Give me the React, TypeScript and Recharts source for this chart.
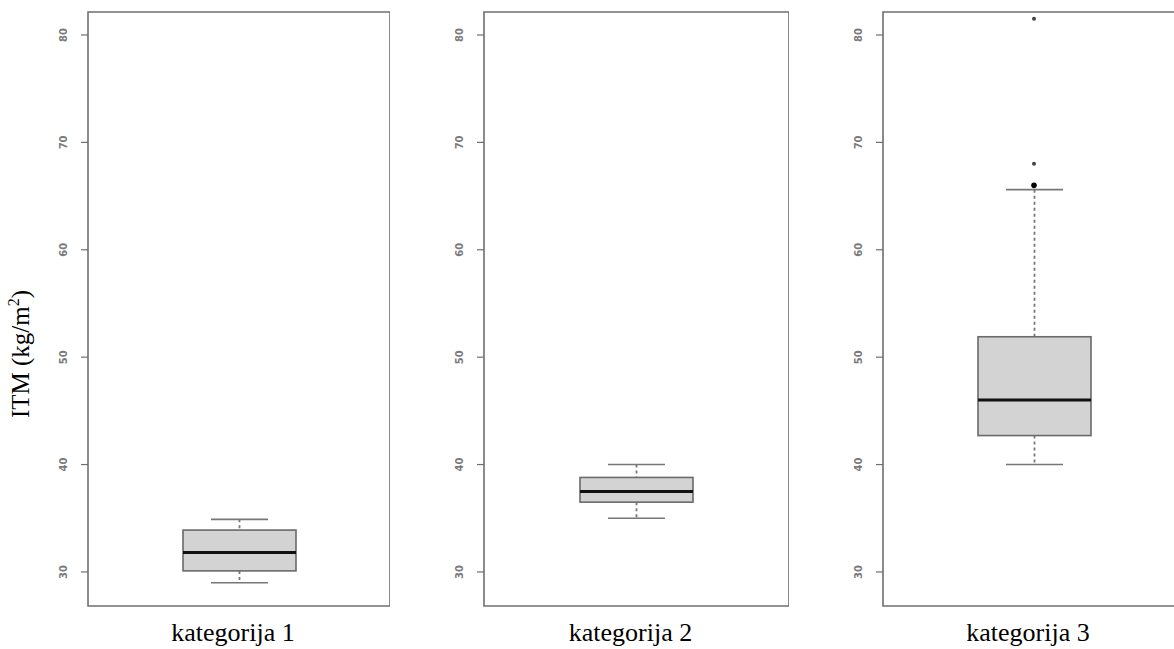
import React from 'react';
import { ComposedChart, Bar, Line, XAxis, YAxis, ReferenceArea } from 'recharts';

const categories = ['kategorija 1', 'kategorija 2', 'kategorija 3'];
const minVals = [29.0, 35.0, 40.0];
const q1Vals = [30.1, 36.5, 42.7];
const medianVals = [31.8, 37.5, 46.0];
const q3Vals = [33.9, 38.8, 51.9];
const maxVals = [34.9, 40.0, 65.6];
const outlierVals: number[][] = [[], [], [66.0, 68.0, 81.5]];
const yTicks = [30, 40, 50, 60, 70, 80];
const yDomain = [26.83, 82.14];
const yLabel = 'ITM (kg/m';

const panels = [
  { left: 0, axisW: 88, plotW: 302 },
  { left: 400, axisW: 84, plotW: 305 },
  { left: 800, axisW: 83, plotW: 302 },
];

const BOX_W = 113;
const CAP_W = 57;
const GRAY = '#6f6f6f';

const BoxShape = (props: any) => {
  const { x, y, width, height, payload } = props;
  const top = Math.min(y, y + height);
  const bottom = Math.max(y, y + height);
  const lo = payload.range[0];
  const hi = payload.range[1];
  const k = (bottom - top) / (hi - lo);
  const toY = (v: number) => bottom - (v - lo) * k;
  const cx = x + width / 2;
  const yq1 = toY(payload.q1);
  const yq3 = toY(payload.q3);
  const ymed = toY(payload.median);
  return (
    <g>
      <line x1={cx} x2={cx} y1={top} y2={yq3} stroke="#777" strokeWidth={1.8} strokeDasharray="3 3" />
      <line x1={cx} x2={cx} y1={yq1} y2={bottom} stroke="#777" strokeWidth={1.8} strokeDasharray="3 3" />
      <line x1={cx - CAP_W / 2} x2={cx + CAP_W / 2} y1={top} y2={top} stroke="#777" strokeWidth={1.6} />
      <line x1={cx - CAP_W / 2} x2={cx + CAP_W / 2} y1={bottom} y2={bottom} stroke="#777" strokeWidth={1.6} />
      <rect x={x} y={yq3} width={width} height={yq1 - yq3} fill="#d3d3d3" stroke="#6a6a6a" strokeWidth={1.6} />
      <line x1={x} x2={x + width} y1={ymed} y2={ymed} stroke="#111" strokeWidth={3} />
    </g>
  );
};

const YTick = (props: any) => {
  const { x, y, payload } = props;
  const bx = x - 12;
  return (
    <text x={bx} y={y} transform={`rotate(-90, ${bx}, ${y})`} textAnchor="middle" fontSize={10}
      fontFamily="DejaVu Sans, sans-serif" fill="#7a7a7a" fontWeight="bold">
      {payload.value}
    </text>
  );
};

const XTick = (props: any) => {
  const { x, payload } = props;
  return (
    <text x={x - 6} y={641} textAnchor="middle" fontSize={26} fontFamily="Liberation Serif, Times New Roman, serif" fill="#000">
      {payload.value}
    </text>
  );
};

const YLabel = () => (
  <text x={29} y={354} transform="rotate(-90, 29, 354)" textAnchor="middle" fontSize={25}
    fontFamily="Liberation Serif, Times New Roman, serif" fill="#000">
    {yLabel}
    <tspan fontSize={16} dy={-10}>2</tspan>
    <tspan dy={10}>)</tspan>
  </text>
);

const OutDot = (props: any) => {
  const { cx, cy, index, dataKey } = props;
  if (cy == null || isNaN(cy)) return <g key={`${dataKey}-${index}`} />;
  const big = dataKey === 'o0';
  return <circle key={`${dataKey}-${index}`} cx={cx} cy={cy} r={big ? 2.8 : 2} fill={big ? '#000' : '#444'} />;
};

export default function App() {
  return (
    <div style={{ position: 'absolute', left: 0, top: 0, width: 1174, height: 649, overflow: 'hidden', background: '#fff' }}>
      {categories.map((cat, i) => {
        const p = panels[i];
        const row: any = {
          name: cat,
          range: [minVals[i], maxVals[i]],
          q1: q1Vals[i],
          median: medianVals[i],
          q3: q3Vals[i],
        };
        outlierVals[i].forEach((v, j) => { row['o' + j] = v; });
        const data = [row];
        return (
          <div key={cat} style={{ position: 'absolute', left: p.left, top: 0 }}>
            <ComposedChart width={p.axisW + p.plotW} height={649} data={data}
              margin={{ top: 12, right: 0, bottom: 0, left: 0 }}>
              <XAxis dataKey="name" type="category" axisLine={false} tickLine={false} height={43}
                tick={<XTick />} interval={0} />
              <YAxis type="number" domain={yDomain} ticks={yTicks} allowDataOverflow width={p.axisW}
                axisLine={false} tickSize={7} tickLine={{ stroke: GRAY, strokeWidth: 1.2 }} tick={<YTick />}
                label={i === 0 ? { content: () => <YLabel /> } : undefined} />
              <ReferenceArea y1={yDomain[0]} y2={yDomain[1]} fill="none" stroke={GRAY} strokeWidth={1.6}
                ifOverflow="visible" />
              <Bar dataKey="range" barSize={BOX_W} shape={<BoxShape />} isAnimationActive={false} />
              {outlierVals[i].map((_, j) => (
                <Line key={'o' + j} dataKey={'o' + j} stroke="none" dot={<OutDot />} activeDot={false}
                  isAnimationActive={false} legendType="none" />
              ))}
            </ComposedChart>
          </div>
        );
      })}
    </div>
  );
}
